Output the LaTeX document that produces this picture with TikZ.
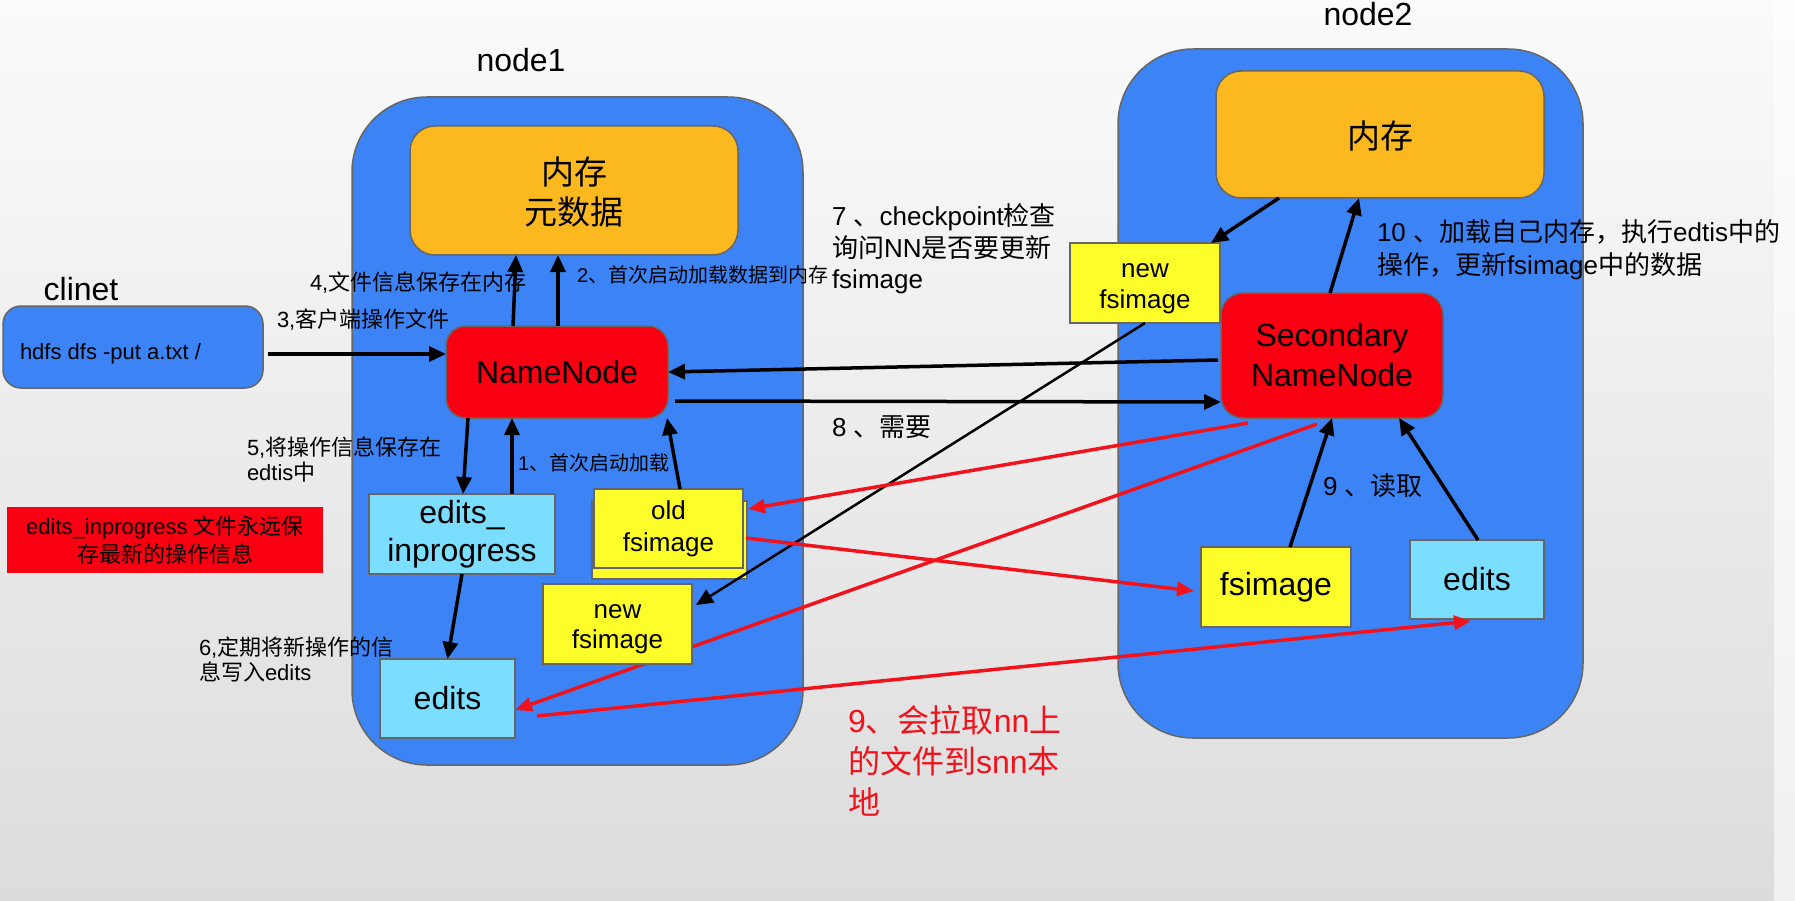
\documentclass[tikz,border=0pt]{standalone}
\usepackage{fontspec}
\setmainfont{Liberation Sans}
\newfontfamily\cjkfont{Noto Sans CJK SC}
\usetikzlibrary{arrows.meta}
\XeTeXinterchartokenstate=1
\ifdefined\newXeTeXintercharclass
  \newXeTeXintercharclass\cjkcls
\else
  \chardef\cjkcls=7
\fi
\newcount\cjkcnt
\newcommand\cjkrange[2]{\cjkcnt=#1\relax
  \loop\XeTeXcharclass\cjkcnt=\cjkcls\relax
  \ifnum\cjkcnt<#2\relax\advance\cjkcnt by 1\repeat}
\cjkrange{"3000}{"303F}
\cjkrange{"4E00}{"9FFF}
\cjkrange{"FF00}{"FFEF}
\XeTeXinterchartoks 0 \cjkcls = {\cjkfont}
\XeTeXinterchartoks 4095 \cjkcls = {\cjkfont}
\XeTeXinterchartoks \cjkcls 0 = {\rmfamily}
\XeTeXinterchartoks \cjkcls 4095 = {\rmfamily}

\definecolor{nodeblue}{HTML}{3C84F6}
\definecolor{memgold}{HTML}{FBB91F}
\definecolor{nnred}{HTML}{F80012}
\definecolor{lcyan}{HTML}{7BDEFF}
\definecolor{fsyellow}{HTML}{FDFD2A}
\definecolor{edgegray}{HTML}{666666}
\definecolor{arrowred}{HTML}{F2121C}
\definecolor{bgtop}{HTML}{FBFBFB}
\definecolor{bgbot}{HTML}{DCDCDC}
\definecolor{striptop}{HTML}{FDFDFD}
\definecolor{stripbot}{HTML}{F0F0F0}

\pgfdeclarelayer{bg}
\pgfdeclarelayer{mid}
\pgfsetlayers{bg,mid,main}

\begin{document}
\begin{tikzpicture}[x=1pt,y=-1pt,
  every node/.style={inner sep=0pt, outer sep=0pt},
  bigbox/.style={draw=edgegray, line width=1.5pt, fill=nodeblue, rounded corners=75pt},
  box/.style={draw=edgegray, line width=1.5pt, align=center},
  arr/.style={line width=3.5pt, -{Triangle[length=17pt,width=15pt]}},
  thinarr/.style={line width=2.5pt, -{Triangle[length=17pt,width=15pt]}},
  redarr/.style={line width=3.5pt, draw=arrowred, -{Triangle[length=17pt,width=14pt]}},
  lbl/.style={anchor=west, align=left},
  sz20/.style={font=\fontsize{20}{25}\selectfont},
  sz22/.style={font=\fontsize{22}{25}\selectfont},
  sz26/.style={font=\fontsize{26}{31.5}\selectfont},
  sz32/.style={font=\fontsize{32}{40}\selectfont},
]
\useasboundingbox (0,0) rectangle (1795,901);

\begin{pgfonlayer}{bg}
\shade[top color=bgtop, bottom color=bgbot] (0,0) rectangle (1795,901);
\shade[top color=striptop, bottom color=stripbot] (1774,0) rectangle (1795,901);
\node[bigbox, minimum width=451pt, minimum height=668pt] (n1) at (577.5,431) {};
\node[bigbox, minimum width=465pt, minimum height=689pt] (n2) at (1350.5,393.5) {};
\end{pgfonlayer}

% titles
\node[sz32] (n1lbl) at (521,60) {node1};
\node[sz32] (n2lbl) at (1368,14) {node2};
\node[sz32] (clilbl) at (81,289) {clinet};

% client
\node[box, fill=nodeblue, rounded corners=18pt, minimum width=260pt, minimum height=82pt] (client) at (133,347) {};
\node[lbl, font=\fontsize{22}{26}\selectfont] (cmd) at (20,354) {hdfs dfs -put a.txt /};

% note
\node[fill=nnred, minimum width=316pt, minimum height=66pt, align=center, font=\fontsize{22}{28}\selectfont] (note) at (165,540) {edits\_inprogress 文件永远保\\存最新的操作信息};

% node1 contents
\node[box, fill=memgold, rounded corners=25pt, minimum width=328pt, minimum height=129pt, font=\fontsize{33}{40}\selectfont] (mem1) at (574,190.5) {\rule{0pt}{31pt}内存\\元数据};
\node[box, fill=nnred, rounded corners=20pt, minimum width=222pt, minimum height=92pt, sz32] (nn) at (557,372) {NameNode};
\node[box, fill=lcyan, minimum width=186pt, minimum height=80pt, font=\fontsize{32}{38}\selectfont] (ei) at (462,534) {edits\_\\inprogress};
\node[box, fill=lcyan, minimum width=135pt, minimum height=79pt, sz32] (ed1) at (447.5,698.5) {edits};
\node[box, fill=fsyellow, minimum width=155pt, minimum height=78pt] (oldback) at (669.5,540) {};
\node[box, fill=fsyellow, minimum width=149pt, minimum height=79pt, font=\fontsize{26}{32}\selectfont] (old) at (668.5,528.5) {old\\fsimage};
\node[box, fill=fsyellow, minimum width=149pt, minimum height=80pt, font=\fontsize{26}{30}\selectfont] (nf1) at (617.5,624) {\rule{0pt}{25pt}new\\fsimage};

% node2 contents
\node[box, fill=memgold, rounded corners=25pt, minimum width=328pt, minimum height=127pt, font=\fontsize{33}{40}\selectfont] (mem2) at (1380,134.5) {\rule{0pt}{31pt}内存};
\node[box, fill=fsyellow, minimum width=150pt, minimum height=80pt, font=\fontsize{26}{31}\selectfont] (nf2) at (1145,283) {\rule{0pt}{25pt}new\\fsimage};
\node[box, fill=nnred, rounded corners=22pt, minimum width=222pt, minimum height=125pt, sz32] (snn) at (1332,355.5) {Secondary\\NameNode};
\node[box, fill=fsyellow, minimum width=150pt, minimum height=80pt, sz32] (fs2) at (1276,587) {fsimage};
\node[box, fill=lcyan, minimum width=134pt, minimum height=79pt, sz32] (ed2) at (1477,579.5) {edits};

% labels
\node[lbl, sz22] (l3) at (277,320) {3,客户端操作文件};
\node[lbl, sz22] (l4) at (310,283) {4,文件信息保存在内存};
\node[lbl, sz20] (l2) at (577,275) {2、首次启动加载数据到内存};
\node[lbl, sz22] (l5) at (247,459.5) {5,将操作信息保存在\\edtis中};
\node[lbl, sz20] (l1) at (518,463) {1、首次启动加载};
\node[lbl, sz22] (l6) at (199,659.5) {6,定期将新操作的信\\息写入edits};
\node[lbl, sz26] (l7) at (832,249) {7 、checkpoint检查\\询问NN是否要更新\\fsimage};
\node[lbl, sz26] (l8) at (832,427) {8 、需要};
\node[lbl, font=\fontsize{26}{33}\selectfont] (l10) at (1377,250) {10 、加载自己内存，执行edtis中的\\操作，更新fsimage中的数据};
\node[lbl, sz26] (l9b) at (1323,486) {9 、读取};
\node[lbl, font=\fontsize{32}{41}\selectfont, text=arrowred] (l9) at (848,761) {9、会拉取nn上\\的文件到snn本\\地};

% black arrows
\draw[arr] ([xshift=5pt,yshift=-7pt]client.east) -- ([yshift=18pt]nn.west);
\draw[arr] ([xshift=-44pt]nn.north) -- ([xshift=-58pt]mem1.south);
\draw[arr] ([xshift=1pt]nn.north) -- ([xshift=-16pt]mem1.south);
\draw[arr] ([xshift=-3pt,yshift=-4.5pt]snn.west) -- (nn.east);
\draw[arr] ([xshift=7pt,yshift=-29pt]nn.east) -- ([yshift=-46.5pt]snn.west);
\draw[arr] ([xshift=-89pt]nn.south) -- ([xshift=1pt]ei.north);
\draw[arr] ([xshift=50pt]ei.north) -- ([xshift=-45pt]nn.south);
\draw[arr] ([xshift=11.5pt]old.north) -- ([xshift=110pt]nn.south);
\draw[arr] (ei.south) -- (ed1.north);
\draw[arr] ([xshift=-101pt]mem2.south) -- ([xshift=66pt]nf2.north);
\draw[arr] ([xshift=-2pt]snn.north) -- ([xshift=-21pt]mem2.south);
\draw[thinarr] (nf2.south) -- ([xshift=4pt,yshift=19pt]nf1.east);
\draw[arr] ([xshift=14pt]fs2.north) -- (snn.south);
\draw[arr] ([xshift=1pt]ed2.north) -- ([xshift=67pt]snn.south);

% red arrows
\draw[redarr] ([xshift=3pt,yshift=-9.5pt]old.east) -- ([xshift=-7pt,yshift=-4pt]fs2.west);
\draw[redarr] ([xshift=-84pt,yshift=-5pt]snn.south) -- ([xshift=5pt,yshift=19.5pt]old.east);
\begin{pgfonlayer}{mid}
\draw[redarr] ([xshift=-15pt,yshift=-6pt]snn.south) -- ([yshift=-11.5pt]ed1.east);
\end{pgfonlayer}
\draw[redarr] ([xshift=22pt,yshift=-17.5pt]ed1.east) -- ([xshift=-6pt,yshift=-2pt]ed2.south);
\end{tikzpicture}
\end{document}
